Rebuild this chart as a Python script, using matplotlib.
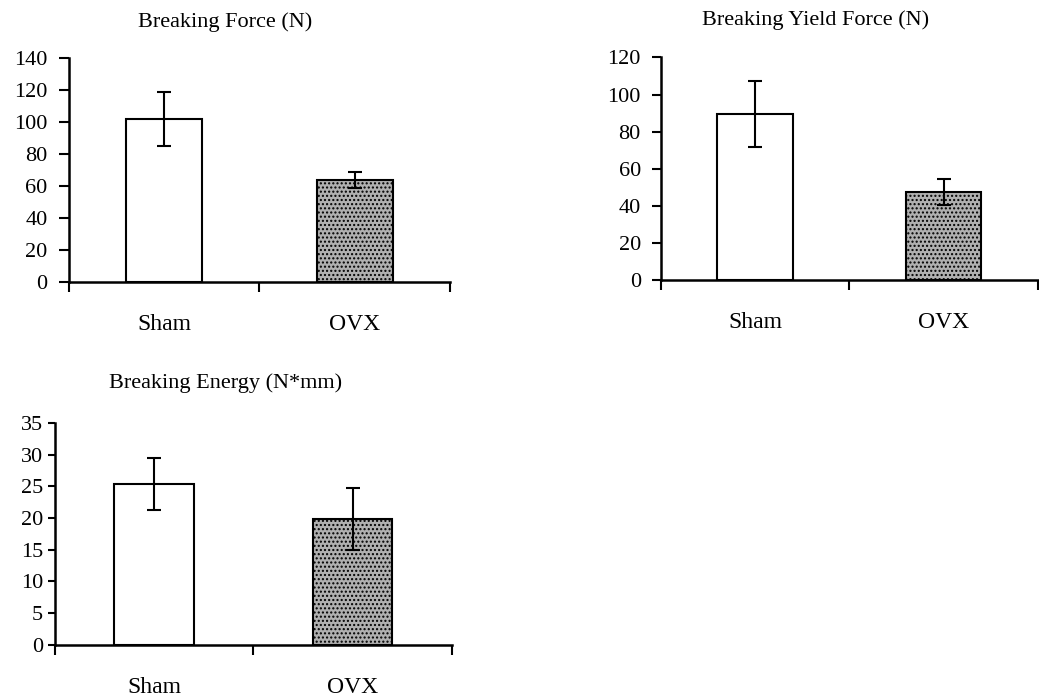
import matplotlib
matplotlib.use("Agg")
import matplotlib.pyplot as plt

categories = ["Sham", "OVX"]

force_vals = [102, 64]
force_err = [17, 5]
yield_vals = [89.5, 47.5]
yield_err = [18, 7]
energy_vals = [25.4, 19.8]
energy_err = [4.1, 4.9]

titles = ["Breaking Force (N)", "Breaking Yield Force (N)", "Breaking Energy (N*mm)"]
ylims = [(0, 140), (0, 120), (0, 35)]
ysteps = [20, 20, 5]

plt.rcParams['font.family'] = ['Liberation Serif', 'DejaVu Serif']
plt.rcParams['hatch.color'] = '#8a8a8a'
plt.rcParams['hatch.linewidth'] = 1.0

fig = plt.figure(figsize=(10.39, 7.0), dpi=100)

positions = [
    [0.0664, 0.597, 0.3667, 0.320],
    [0.636, 0.600, 0.363, 0.318],
    [0.0529, 0.079, 0.382, 0.317],
]
title_pos = [(0.41, 1.16), (0.41, 1.167), (0.43, 1.18)]
ytick_len = [10, 9, 7]
ytick_pad = [11.5, 11, 5]

data = [(force_vals, force_err), (yield_vals, yield_err), (energy_vals, energy_err)]
colors = ["white", "#b0b0b0"]

for i, (vals, errs) in enumerate(data):
    ax = fig.add_axes(positions[i])
    x = list(range(len(categories)))
    bars = ax.bar(x, vals, width=0.4, color=colors, edgecolor="black", linewidth=1.5, zorder=2)
    bars[1].set_hatch("....")
    ax.errorbar(x, vals, yerr=errs, fmt="none", ecolor="black", elinewidth=1.5,
                capsize=5, capthick=1.5, zorder=3)
    ax.set_xlim(-0.5, 1.5)
    ax.set_ylim(*ylims[i])
    lo, hi = ylims[i]
    ticks = list(range(lo, hi + 1, ysteps[i]))
    ax.set_yticks(ticks)
    ax.set_yticklabels([str(t) for t in ticks], fontsize=16)
    ax.set_xticks([-0.5, 0.5, 1.5], minor=True)
    ax.set_xticks(x)
    ax.set_xticklabels(categories, fontsize=17)
    ax.tick_params(axis="x", which="major", length=0, pad=23)
    ax.tick_params(axis="x", which="minor", length=7, width=1.5, direction="out")
    ax.tick_params(axis="y", length=ytick_len[i] * 0.72, width=1.5, direction="out",
                   pad=ytick_pad[i] * 0.72)
    for s in ["top", "right"]:
        ax.spines[s].set_visible(False)
    for s in ["left", "bottom"]:
        ax.spines[s].set_linewidth(1.8)
    ax.text(title_pos[i][0], title_pos[i][1], titles[i], transform=ax.transAxes,
            ha="center", va="center", fontsize=16)

fig.savefig("out.png", dpi=100)
